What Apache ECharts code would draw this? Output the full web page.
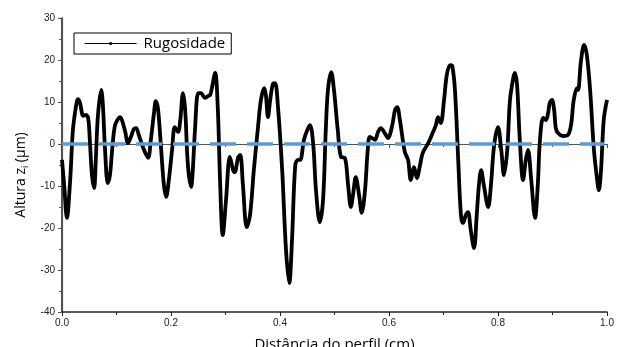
<!DOCTYPE html>
<html>
<head>
<meta charset="utf-8">
<script src="https://cdn.jsdelivr.net/npm/echarts@6/dist/echarts.min.js"></script>
<style>
  html, body { margin: 0; padding: 0; background: #fff; }
  #chart { width: 620px; height: 347px; }
</style>
</head>
<body>
<div id="chart"></div>
<script>
// distância ao longo do perfil (cm)
var distancia = [
  0.000, 0.004, 0.009, 0.015, 0.020, 0.026, 0.029, 0.033, 0.039, 0.044, 0.048, 0.051, 0.055, 0.059, 0.062, 0.066,
  0.072, 0.075, 0.079, 0.084, 0.088, 0.092, 0.097, 0.103, 0.106, 0.110, 0.116, 0.121, 0.127, 0.132, 0.136, 0.141,
  0.147, 0.152, 0.158, 0.163, 0.169, 0.172, 0.176, 0.182, 0.187, 0.191, 0.196, 0.202, 0.207, 0.213, 0.217, 0.222,
  0.226, 0.231, 0.237, 0.240, 0.244, 0.250, 0.255, 0.262, 0.268, 0.272, 0.275, 0.281, 0.286, 0.290, 0.295, 0.301,
  0.308, 0.314, 0.317, 0.323, 0.327, 0.332, 0.339, 0.345, 0.352, 0.360, 0.365, 0.371, 0.374, 0.378, 0.382, 0.387,
  0.391, 0.396, 0.404, 0.411, 0.417, 0.422, 0.428, 0.433, 0.437, 0.444, 0.450, 0.455, 0.461, 0.466, 0.473, 0.479,
  0.484, 0.488, 0.494, 0.499, 0.506, 0.512, 0.519, 0.525, 0.530, 0.534, 0.539, 0.545, 0.550, 0.556, 0.561, 0.565,
  0.574, 0.580, 0.585, 0.593, 0.598, 0.606, 0.611, 0.615, 0.620, 0.629, 0.635, 0.640, 0.646, 0.651, 0.657, 0.662,
  0.672, 0.681, 0.686, 0.690, 0.695, 0.701, 0.706, 0.712, 0.716, 0.721, 0.727, 0.732, 0.736, 0.741, 0.745, 0.750,
  0.756, 0.761, 0.765, 0.769, 0.774, 0.782, 0.787, 0.793, 0.800, 0.806, 0.811, 0.817, 0.822, 0.828, 0.831, 0.835,
  0.840, 0.846, 0.851, 0.855, 0.861, 0.868, 0.873, 0.877, 0.883, 0.888, 0.892, 0.895, 0.899, 0.903, 0.906, 0.910,
  0.919, 0.928, 0.934, 0.939, 0.945, 0.947, 0.952, 0.958, 0.963, 0.969, 0.976, 0.982, 0.985, 0.989, 0.994, 1.000
]
// altura z_i (µm)
var altura = [
  -3.8, -9.8, -17.6, -8.6, 3.3, 9.3, 10.7, 9.8, 6.7, 6.9, 6.2, 1.0, -7.4, -10.5, -3.8, 6.9,
  12.9, 9.3, -1.4, -9.3, -7.4, -1.4, 4.3, 6.0, 6.4, 5.7, 2.9, 0.2, 1.9, 3.6, 3.8, 2.1,
  -0.2, -1.9, -3.3, 1.0, 7.6, 10.2, 8.6, -1.4, -9.8, -12.6, -8.6, -1.4, 4.0, 2.9, 5.7, 12.1,
  8.1, -5.0, -10.2, -6.2, 3.3, 12.1, 12.1, 11.0, 11.4, 11.7, 13.3, 16.9, 8.1, -8.6, -21.7, -13.3,
  -3.1, -6.2, -6.7, -3.3, -2.6, -9.8, -19.8, -16.9, -6.2, 4.5, 10.5, 13.3, 11.7, 6.4, 10.5, 14.3,
  14.5, 9.3, -6.2, -25.2, -33.1, -22.9, -5.0, -3.8, -3.8, 1.0, 3.3, 4.5, -0.2, -11.0, -18.6, -13.3,
  3.3, 12.9, 17.1, 12.9, 3.3, -3.1, -3.3, -9.8, -15.0, -12.1, -7.9, -12.1, -16.4, -11.0, -1.4, 1.7,
  1.0, 2.9, 3.8, 2.4, 1.4, 4.5, 8.1, 8.8, 5.7, -1.9, -3.8, -8.6, -5.5, -8.1, -5.0, -2.1,
  0.2, 2.9, 4.5, 6.4, 5.0, 10.5, 16.4, 18.8, 18.6, 12.9, -3.8, -16.9, -18.8, -16.9, -16.2, -20.5,
  -24.8, -16.9, -9.8, -6.2, -9.8, -15.0, -9.8, -0.2, 4.0, -1.4, -7.4, -1.4, 10.5, 15.7, 16.9, 14.0,
  1.0, -8.6, -3.8, -1.4, -8.6, -17.6, -9.8, 1.0, 6.2, 5.7, 7.4, 9.8, 10.5, 8.1, 3.8, 2.6,
  1.9, 2.1, 4.5, 10.5, 13.3, 12.9, 19.5, 23.6, 21.2, 12.9, -1.4, -8.6, -11.0, -6.2, 5.7, 10.5
]
// linha de referência (média)
var linhaMedia = [[0, 0], [0.995, 0]]

var chart = echarts.init(document.getElementById('chart'))
var perfil = distancia.map(function(d, i) { return [d, altura[i]] })

var font = 'Liberation Sans, Arial, sans-serif'
var titleFont = 'Open Sans, Noto Sans, sans-serif'

chart.setOption({
  animation: false,
  backgroundColor: '#fff',
  grid: { left: 62, right: 13, top: 18, bottom: 35, outerBoundsMode: 'none', containLabel: false },
  legend: {
    data: ['Rugosidade'],
    left: 74,
    top: 33,
    padding: [3, 6, 3, 10],
    borderColor: '#000',
    borderWidth: 1,
    borderRadius: 0,
    itemWidth: 52,
    itemHeight: 4,
    itemGap: 0,
    lineStyle: { width: 1.2, color: '#000' },
    itemStyle: { color: '#000' },
    textStyle: { fontFamily: titleFont, fontSize: 15, color: '#000', padding: [0, 0, 0, 2] }
  },
  xAxis: [{
    type: 'value',
    min: 0, max: 1, interval: 0.2,
    name: 'Distância do perfil (cm)',
    nameLocation: 'middle',
    nameGap: 25,
    nameTextStyle: { fontFamily: titleFont, fontSize: 15, color: '#000' },
    axisLine: { onZero: false, lineStyle: { color: '#222', width: 1.5 } },
    axisTick: { inside: false, length: 4, lineStyle: { color: '#222' } },
    minorTick: { show: true, splitNumber: 2, length: 3, lineStyle: { color: '#222' } },
    splitLine: { show: false },
    axisLabel: {
      fontFamily: font, fontSize: 10, color: '#222', margin: 6,
      formatter: function(v) { return v.toFixed(1) }
    }
  }, {
    type: 'value',
    position: 'top',
    min: 0, max: 1, interval: 0.2,
    axisLine: { show: true, lineStyle: { color: '#555', width: 1.2 } },
    axisTick: { inside: true, length: 4, lineStyle: { color: '#555' } },
    minorTick: { show: true, splitNumber: 2, length: 3, lineStyle: { color: '#555' } },
    splitLine: { show: false },
    axisLabel: { show: false }
  }],
  yAxis: [{
    type: 'value',
    min: -40, max: 30, interval: 10,
    name: 'Altura z{sub|i} (µm)',
    nameLocation: 'middle',
    nameGap: 30,
    nameRotate: 90,
    nameTextStyle: {
      fontFamily: titleFont, fontSize: 14, color: '#000',
      padding: [0, 20, 0, 0],
      rich: { sub: { fontFamily: titleFont, fontSize: 9, color: '#000', padding: [0, 0, -8, 0] } }
    },
    axisLine: { onZero: false, lineStyle: { color: '#111', width: 1.5 } },
    axisTick: { inside: false, length: 4, lineStyle: { color: '#111' } },
    minorTick: { show: true, splitNumber: 2, length: 3, lineStyle: { color: '#111' } },
    splitLine: { show: false },
    axisLabel: { fontFamily: font, fontSize: 10, color: '#222', margin: 7 }
  }, {
    type: 'value',
    position: 'right',
    min: -40, max: 30, interval: 10,
    axisLine: { show: true, lineStyle: { color: '#555', width: 1.2 } },
    axisTick: { inside: true, length: 4, lineStyle: { color: '#555' } },
    minorTick: { show: true, splitNumber: 2, length: 3, lineStyle: { color: '#555' } },
    splitLine: { show: false },
    axisLabel: { show: false }
  }],
  series: [{
    name: 'Rugosidade',
    type: 'line',
    data: perfil,
    smooth: 0.35,
    symbol: 'circle',
    symbolSize: 3,
    showSymbol: false,
    z: 2,
    itemStyle: { color: '#000' },
    lineStyle: { color: '#000', width: 3.8 }
  }, {
    name: 'media',
    type: 'line',
    data: linhaMedia,
    symbol: 'none',
    silent: true,
    z: 3,
    lineStyle: { color: '#5b9bd5', width: 3.5, type: [26, 11] }
  }]
})
</script>
</body>
</html>
